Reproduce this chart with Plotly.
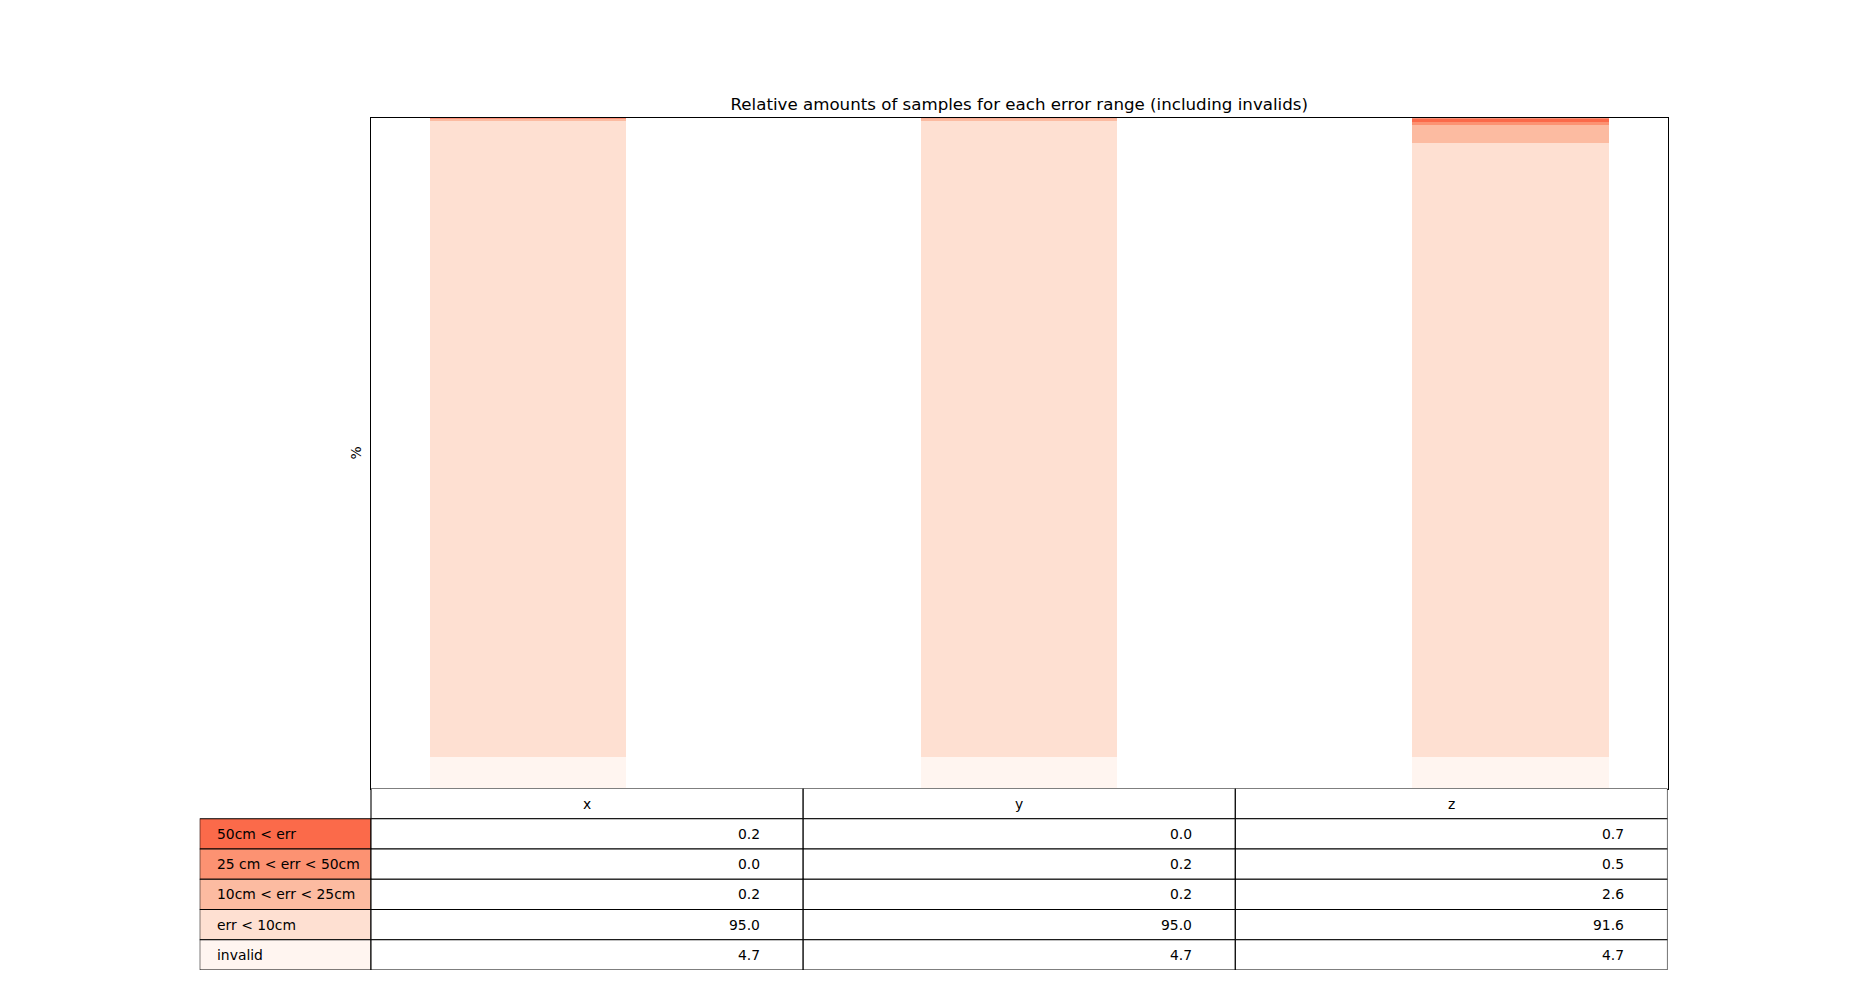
import plotly.graph_objects as go

# ---- data ----
columns = ["x", "y", "z"]
row_labels = ["50cm < err", "25 cm < err < 50cm", "10cm < err < 25cm", "err < 10cm", "invalid"]
vals_50_plus = [0.2, 0.0, 0.7]
vals_25_50 = [0.0, 0.2, 0.5]
vals_10_25 = [0.2, 0.2, 2.6]
vals_below_10 = [95.0, 95.0, 91.6]
vals_invalid = [4.7, 4.7, 4.7]
row_colors = ["#fb6a4a", "#fc9272", "#fcbba1", "#fee0d2", "#fff5f0"]
bar_positions = [0.3, 1.3, 2.3]

table_rows = [vals_50_plus, vals_25_50, vals_10_25, vals_below_10, vals_invalid]

W, H = 1853, 986
FONT = "DejaVu Sans"
FS = 13.9
TFS = 16.67

# layout geometry (pixels)
ax_left, ax_right, ax_top, ax_bottom = 371.0, 1667.5, 118.3, 788.5
lab_left = 199.7
tab_bottom = 970.0
col_px = (ax_right - ax_left) / len(columns)
lab_w = (ax_left - lab_left) / col_px

fig = go.Figure()

# stacked bars, bottom to top
for label, vals, color in reversed(list(zip(row_labels, table_rows, row_colors))):
    fig.add_trace(go.Bar(
        x=bar_positions, y=vals, width=0.4, name=label,
        marker=dict(color=color, line=dict(width=0)),
        hoverinfo="skip", showlegend=False,
    ))

# invisible anchor trace for table axes
fig.add_trace(go.Scatter(x=[0], y=[0], xaxis="x2", yaxis="y2", mode="markers",
                         marker=dict(opacity=0), hoverinfo="skip", showlegend=False))

shapes = []
annotations = []
n_rows = len(row_labels) + 1
LINE = dict(color="black", width=1.1)
# header cells
for c, name in enumerate(columns):
    shapes.append(dict(type="rect", xref="x2", yref="y2", x0=c, x1=c + 1, y0=0, y1=1,
                       line=LINE, fillcolor="white", layer="above"))
    annotations.append(dict(xref="x2", yref="y2", x=c + 0.5, y=0.5, text=name, showarrow=False,
                            xanchor="center", yanchor="middle",
                            font=dict(family=FONT, size=FS, color="black")))
# body cells
for r, (label, vals, color) in enumerate(zip(row_labels, table_rows, row_colors)):
    ri = r + 1
    shapes.append(dict(type="rect", xref="x2", yref="y2", x0=-lab_w, x1=0, y0=ri, y1=ri + 1,
                       line=LINE, fillcolor=color, layer="above"))
    annotations.append(dict(xref="x2", yref="y2", x=-lab_w, y=ri + 0.5, text=label, showarrow=False,
                            xanchor="left", yanchor="middle", xshift=15,
                            font=dict(family=FONT, size=FS, color="black")))
    for c, v in enumerate(vals):
        shapes.append(dict(type="rect", xref="x2", yref="y2", x0=c, x1=c + 1, y0=ri, y1=ri + 1,
                           line=LINE, fillcolor="white", layer="above"))
        annotations.append(dict(xref="x2", yref="y2", x=c + 1, y=ri + 0.5, text=f"{v:.1f}",
                                showarrow=False, xanchor="right", yanchor="middle",
                                xshift=-0.1 * col_px + 2,
                                font=dict(family=FONT, size=FS, color="black")))

# y label
annotations.append(dict(xref="paper", yref="paper", x=366 / W, y=1 - (ax_top + ax_bottom) / 2 / H,
                        text="%", textangle=-90, showarrow=False, xanchor="right", yanchor="middle",
                        font=dict(family=FONT, size=FS, color="black")))

fig.update_layout(
    width=W, height=H,
    margin=dict(l=0, r=0, t=0, b=0),
    paper_bgcolor="white", plot_bgcolor="white",
    barmode="stack", bargap=0,
    font=dict(family=FONT, color="black"),
    title=dict(text="Relative amounts of samples for each error range (including invalids)",
               x=(ax_left + ax_right) / 2 / W, xanchor="center", xref="paper",
               y=1 - 104 / H, yanchor="middle", yref="paper",
               font=dict(family=FONT, size=TFS, color="black")),
    xaxis=dict(domain=[ax_left / W, ax_right / W], range=[-0.02, 2.62], showticklabels=False,
               ticks="", showgrid=False, zeroline=False, showline=True, mirror=True,
               linecolor="black", linewidth=1.1, anchor="y", fixedrange=True),
    yaxis=dict(domain=[1 - ax_bottom / H, 1 - ax_top / H], range=[0, 100], showticklabels=False,
               ticks="", showgrid=False, zeroline=False, showline=True, mirror=True,
               linecolor="black", linewidth=1.1, anchor="x", fixedrange=True),
    xaxis2=dict(domain=[lab_left / W, ax_right / W], range=[-lab_w, len(columns)], visible=False,
                anchor="y2", fixedrange=True),
    yaxis2=dict(domain=[1 - tab_bottom / H, 1 - ax_bottom / H], range=[n_rows, 0], visible=False,
                anchor="x2", fixedrange=True),
    shapes=shapes, annotations=annotations,
)

fig.write_html("out.html", config={"displayModeBar": False},
               post_script="document.body.style.margin='0px';document.body.style.overflow='hidden';")
